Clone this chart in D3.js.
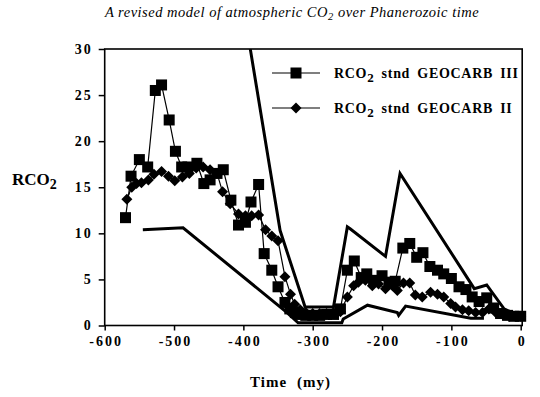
<!DOCTYPE html>
<html>
<head>
<meta charset="utf-8">
<script src="https://cdn.jsdelivr.net/npm/d3@7"></script>
<style>
  html, body { margin: 0; padding: 0; background: #fff; }
  svg { display: block; }
  text { font-family: "Liberation Serif", "Times New Roman", serif; fill: #000; }
</style>
</head>
<body>
<div id="chart"></div>
<script>
// ---- Data ----
const xTicks = [-600, -500, -400, -300, -200, -100, 0];
const yTicks = [0, 5, 10, 15, 20, 25, 30];

// RCO2 stnd GEOCARB III (squares)
const g3Time = [-570, -562, -550, -538, -527, -518, -507, -498, -489, -480, -467, -457, -448, -438, -429, -418, -407, -397, -389, -378, -370, -359, -350, -340, -333, -325, -318, -310, -300, -290, -280, -270, -260, -250, -240, -230, -222, -212, -200, -190, -181, -170, -160, -150, -141, -131, -120, -111, -100, -89, -79, -70, -60, -49, -39, -29, -19, -10, 0];
const g3Val  = [11.7, 16.2, 18.0, 17.2, 25.5, 26.1, 22.3, 18.9, 17.2, 17.2, 17.6, 15.4, 15.8, 16.5, 16.9, 13.6, 10.9, 11.2, 13.4, 15.3, 7.8, 6.0, 4.2, 2.5, 1.8, 1.4, 1.2, 1.1, 1.1, 1.1, 1.2, 1.2, 1.8, 6.0, 7.0, 5.2, 5.6, 4.9, 5.4, 4.7, 4.8, 8.4, 8.9, 7.4, 7.9, 6.4, 6.0, 5.6, 5.1, 4.2, 3.9, 3.1, 2.6, 3.0, 1.9, 1.3, 1.1, 1.0, 1.0];

// RCO2 stnd GEOCARB II (diamonds)
const g2Time = [-568, -561, -554, -547, -537, -529, -518, -508, -499, -488, -478, -468, -458, -448, -438, -430, -419, -407, -397, -388, -378, -368, -359, -350, -340, -332, -326, -318, -310, -300, -290, -280, -270, -260, -250, -241, -234, -224, -214, -205, -195, -185, -178, -169, -160, -152, -142, -130, -120, -111, -101, -94, -84, -75, -65, -55, -46, -36, -26, -16, -8, 0];
const g2Val  = [13.7, 15.0, 15.4, 15.5, 15.8, 16.4, 16.7, 16.2, 15.7, 16.1, 16.5, 17.1, 17.2, 16.9, 16.5, 14.5, 13.2, 12.1, 11.9, 11.9, 12.0, 10.4, 9.7, 9.2, 5.3, 3.4, 2.3, 1.7, 1.4, 1.3, 1.3, 1.3, 1.4, 1.5, 3.1, 4.3, 4.7, 4.9, 4.3, 4.5, 4.0, 4.3, 3.8, 4.6, 4.6, 3.3, 3.1, 3.6, 3.4, 3.1, 2.4, 2.0, 1.7, 1.6, 1.4, 1.4, 1.8, 1.4, 1.2, 1.0, 1.0, 1.0];

// Error envelope: upper bound
const upTime = [-390, -347, -311, -270, -250, -246, -195, -174, -67, -49, -24, 0];
const upVal  = [30, 10.3, 2.0, 2.0, 10.7, 10.5, 7.5, 16.5, 4.0, 4.4, 1.8, 1.0];

// Error envelope: lower bound
const loTime = [-545, -487, -337, -321, -258, -256, -221, -178, -176, -166, -72, -53];
const loVal  = [10.4, 10.6, 1.4, 0.3, 0.3, 0.7, 2.2, 1.4, 1.1, 2.1, 0.8, 0.8];

const legendLabels = ["GEOCARB III", "GEOCARB II"];

// ---- Layout ----
const W = 540, H = 397;
const pL = 104.7, pR = 520.7, pT = 49, pB = 325.5;

const svg = d3.select("#chart").append("svg").attr("width", W).attr("height", H);

const x = d3.scaleLinear().domain([-600, 0]).range([pL, pR]);
const y = d3.scaleLinear().domain([0, 30]).range([pB, pT]);

// Title
const title = svg.append("text")
  .attr("x", 292).attr("y", 17)
  .attr("text-anchor", "middle")
  .style("font-family", "'Liberation Serif', 'Times New Roman', serif")
  .style("font-style", "italic")
  .style("font-size", "14.5px")
  .style("letter-spacing", "0.5px");
title.append("tspan").text("A revised model of atmospheric CO");
title.append("tspan").attr("dy", 3).style("font-size", "10.5px").text("2");
title.append("tspan").attr("dy", -3).text(" over Phanerozoic time");

// Frame
svg.append("rect")
  .attr("x", pL).attr("y", pT)
  .attr("width", pR - pL + 1.5).attr("height", pB - pT)
  .attr("fill", "none").attr("stroke", "#000").attr("stroke-width", 1.6);

// Axes
const fmt = d => String(d);
const yAxis = svg.append("g")
  .attr("transform", `translate(${pL},0)`)
  .call(d3.axisLeft(y).tickValues(yTicks).tickSize(6).tickPadding(6).tickFormat(fmt));
const xAxis = svg.append("g")
  .attr("transform", `translate(0,${pB})`)
  .call(d3.axisBottom(x).tickValues(xTicks).tickSize(5).tickPadding(6).tickFormat(fmt));
[yAxis, xAxis].forEach(g => {
  g.attr("font-family", null);
  g.select(".domain").remove();
  g.selectAll(".tick line").attr("stroke", "#000").attr("stroke-width", 1.5);
  g.selectAll(".tick text")
    .style("font-family", "'Liberation Serif', 'Times New Roman', serif")
    .style("font-weight", "bold")
    .style("font-size", "14px")
    .style("letter-spacing", "2px")
    .attr("fill", "#000");
});
xAxis.selectAll(".tick text").attr("dx", "1px");

// Clip
svg.append("clipPath").attr("id", "clip")
  .append("rect").attr("x", pL).attr("y", pT).attr("width", pR - pL + 8).attr("height", pB - pT + 2);

const plot = svg.append("g").attr("clip-path", "url(#clip)");

const line = d3.line().x(d => x(d[0])).y(d => y(d[1]));
const zip = (a, b) => a.map((t, i) => [t, b[i]]);

// Envelope lines
[zip(upTime, upVal), zip(loTime, loVal)].forEach(data => {
  plot.append("path").datum(data)
    .attr("d", line)
    .attr("fill", "none").attr("stroke", "#000").attr("stroke-width", 3)
    .attr("stroke-linejoin", "miter");
});

// Series lines
const g3 = zip(g3Time, g3Val), g2 = zip(g2Time, g2Val);
[g2, g3].forEach(data => {
  svg.append("path").datum(data)
    .attr("d", line)
    .attr("fill", "none").attr("stroke", "#000").attr("stroke-width", 1.2);
});

const diamond = "M0,-5.5L5.5,0L0,5.5L-5.5,0Z";
const sq = 11;

// Diamonds
svg.append("g").selectAll("path").data(g2).join("path")
  .attr("d", diamond)
  .attr("transform", d => `translate(${x(d[0])},${y(d[1])})`)
  .attr("fill", "#000");

// Squares
svg.append("g").selectAll("rect").data(g3).join("rect")
  .attr("x", d => x(d[0]) - sq / 2).attr("y", d => y(d[1]) - sq / 2)
  .attr("width", sq).attr("height", sq)
  .attr("fill", "#000");

// Legend
const legY = [73, 108];
legendLabels.forEach((lab, i) => {
  const g = svg.append("g");
  g.append("line").attr("x1", 272).attr("x2", 320).attr("y1", legY[i]).attr("y2", legY[i])
    .attr("stroke", "#000").attr("stroke-width", 1.2);
  if (i === 0) {
    g.append("rect").attr("x", 296 - 5.5).attr("y", legY[i] - 5.5).attr("width", sq).attr("height", sq).attr("fill", "#000");
  } else {
    g.append("path").attr("d", diamond).attr("transform", `translate(296,${legY[i]})`).attr("fill", "#000");
  }
  const t = g.append("text").attr("x", 334).attr("y", legY[i] + 5)
    .style("font-weight", "bold").style("font-size", "14px")
    .style("letter-spacing", "0.7px").style("word-spacing", "3px");
  t.append("tspan").text("RCO");
  t.append("tspan").attr("dy", 4).style("font-size", "13px").text("2");
  t.append("tspan").attr("dy", -4).text(" stnd " + lab);
});

// Y label
const yl = svg.append("text").attr("x", 12).attr("y", 185)
  .style("font-weight", "bold").style("font-size", "17px");
yl.append("tspan").text("RCO");
yl.append("tspan").attr("dy", 4).style("font-size", "14px").text("2");

// X label
svg.append("text").attr("x", 290.5).attr("y", 387)
  .attr("text-anchor", "middle")
  .style("font-weight", "bold").style("font-size", "15px")
  .style("letter-spacing", "1px").style("word-spacing", "5px")
  .text("Time (my)");
</script>
</body>
</html>
